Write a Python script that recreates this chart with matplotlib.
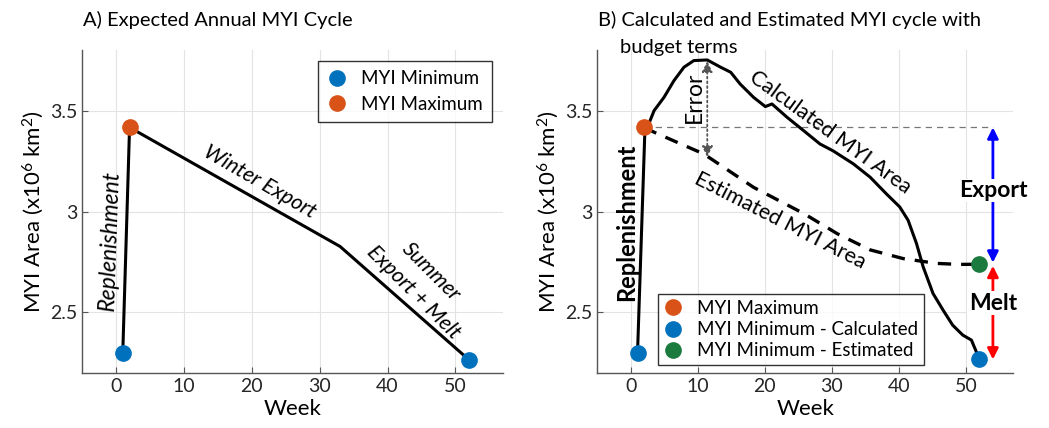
import numpy as np
import matplotlib
matplotlib.use('Agg')
from matplotlib import pyplot as plt
from matplotlib.ticker import FuncFormatter

plt.rcParams['font.family'] = ['Lato', 'DejaVu Sans']
plt.rcParams['mathtext.fontset'] = 'custom'
plt.rcParams['mathtext.rm'] = 'Lato'
plt.rcParams['mathtext.it'] = 'Lato:italic'

# colours (matlab default-ish)
blue = '#0072BD'
orange = '#D95319'
green = '#1b7a3e'

# panel A: idealised cycle
a_week = [1, 2, 33, 52]
a_area = [2.30, 3.417, 2.827, 2.265]
a_min_week = [1, 52]
a_min_area = [2.30, 2.265]
a_max_week = [2]
a_max_area = [3.417]

# panel B: calculated curve
calc_week = [1, 2.08, 3.47, 4.95, 6.44, 7.92, 9.4, 11.4, 13.4, 14.9, 16.3, 18.3, 20.06,
             21.05, 23.3, 25.8, 28.2, 30.2, 33.2, 35.7, 38.1, 40.1, 41.35, 42.6, 43.6,
             45.07, 46.6, 48.0, 49.5, 50.8, 52]
calc_area = [2.30, 3.385, 3.50, 3.566, 3.649, 3.715, 3.748, 3.751, 3.715, 3.69, 3.632,
             3.566, 3.52, 3.533, 3.467, 3.40, 3.335, 3.30, 3.236, 3.17, 3.088, 3.023,
             2.957, 2.842, 2.726, 2.594, 2.51, 2.437, 2.388, 2.363, 2.267]
# panel B: estimated curve
est_week = [2, 3.47, 10.9, 18.3, 25.8, 30.8, 35.7, 40.6, 45.6, 49, 52]
est_area = [3.417, 3.393, 3.285, 3.12, 2.99, 2.89, 2.81, 2.767, 2.743, 2.738, 2.739]

b_max = (2, 3.417)
b_min_calc = (52, 2.267)
b_min_est = (52, 2.739)
arrow_week = 54
error_week = 11.4
error_top = 3.745
error_bottom = 3.27

fig = plt.figure(figsize=(10.49, 4.28), dpi=100)
axA = fig.add_axes([0.0782, 0.1285, 0.4013, 0.7545])
axB = fig.add_axes([0.5694, 0.1285, 0.3963, 0.7545])

ann_size = 15.5


def style(ax):
    ax.set_xlim(-5, 57)
    ax.set_ylim(2.2, 3.8)
    ax.set_xticks([0, 10, 20, 30, 40, 50])
    ax.set_yticks([2.5, 3, 3.5])
    ax.yaxis.set_major_formatter(FuncFormatter(lambda v, p: '%g' % v))
    ax.grid(True, color='#e3e3e3', linewidth=0.8)
    ax.set_axisbelow(True)
    for s in ['top', 'right']:
        ax.spines[s].set_visible(False)
    for s in ['left', 'bottom']:
        ax.spines[s].set_color('#555555')
        ax.spines[s].set_linewidth(1.0)
    ax.tick_params(direction='in', length=4, colors='#555555', labelcolor='#262626',
                   labelsize=14)
    ax.set_xlabel('Week', fontsize=16, labelpad=3)
    ax.set_ylabel('MYI Area (x10$^{6}$ km$^{2}$)', fontsize=16, labelpad=3)


style(axA)
style(axB)

# ---- panel A
axA.plot(a_week, a_area, color='black', lw=2.2, zorder=3)
axA.plot(a_min_week, a_min_area, 'o', color=blue, ms=11, ls='none', label='MYI Minimum', zorder=4)
axA.plot(a_max_week, a_max_area, 'o', color=orange, ms=11, ls='none', label='MYI Maximum', zorder=4)
legA = axA.legend(loc='upper right', bbox_to_anchor=(0.974, 0.966), borderaxespad=0,
                  fontsize=13.5, frameon=True, fancybox=False, edgecolor='black',
                  handletextpad=0.8, borderpad=0.5, labelspacing=0.45, handlelength=1.0)
legA.get_frame().set_linewidth(1.0)

axA.text(-0.84, 2.857, 'Replenishment', rotation=88, style='italic', fontsize=ann_size + 1,
         ha='center', va='center')
axA.text(21.2, 3.145, 'Winter Export', rotation=-30, style='italic', fontsize=ann_size,
         ha='center', va='center', rotation_mode='anchor')
axA.text(46.4, 2.70, 'Summer', rotation=-45, style='italic', fontsize=ann_size,
         ha='center', va='center', rotation_mode='anchor')
axA.text(43.8, 2.60, 'Export + Melt', rotation=-45, style='italic', fontsize=ann_size,
         ha='center', va='center', rotation_mode='anchor')

fig.text(0.079, 0.953, 'A) Expected Annual MYI Cycle', fontsize=14.5, ha='left', va='center')

# ---- panel B
axB.plot(calc_week, calc_area, color='black', lw=2.2, zorder=3)
axB.plot(est_week, est_area, color='black', lw=2.4, ls=(0, (4, 3)), zorder=3)
axB.plot([b_max[0], arrow_week], [b_max[1], b_max[1]], color='#777777', lw=0.9,
         ls=(0, (5, 4)), zorder=2)

axB.annotate('', xy=(error_week, error_top), xytext=(error_week, error_bottom),
             arrowprops=dict(arrowstyle='<|-|>', color='#555555', lw=1.3, ls=':',
                             mutation_scale=16, shrinkA=0, shrinkB=0))
axB.annotate('', xy=(arrow_week, b_max[1]), xytext=(arrow_week, b_min_est[1] + 0.008),
             arrowprops=dict(arrowstyle='<|-|>', color='blue', lw=2.0,
                             mutation_scale=16, shrinkA=0, shrinkB=0))
axB.annotate('', xy=(arrow_week, b_min_est[1] - 0.008), xytext=(arrow_week, b_min_calc[1]),
             arrowprops=dict(arrowstyle='<|-|>', color='red', lw=2.0,
                             mutation_scale=16, shrinkA=0, shrinkB=0))

axB.plot([b_max[0]], [b_max[1]], 'o', color=orange, ms=11, ls='none', label='MYI Maximum', zorder=5)
axB.plot([b_min_calc[0]], [b_min_calc[1]], 'o', color=blue, ms=11, ls='none',
         label='MYI Minimum - Calculated', zorder=5)
axB.plot([b_min_est[0]], [b_min_est[1]], 'o', color=green, ms=11, ls='none',
         label='MYI Minimum - Estimated', zorder=5)
# first blue minimum at week 1
axB.plot([a_min_week[0]], [a_min_area[0]], 'o', color=blue, ms=11, ls='none', zorder=5)

legB = axB.legend(loc='lower left', bbox_to_anchor=(0.146, 0.025), borderaxespad=0,
                  fontsize=13.5, frameon=True, fancybox=False, edgecolor='black',
                  handletextpad=0.8, borderpad=0.3, labelspacing=0.22, handlelength=1.0)
legB.get_frame().set_linewidth(1.0)

axB.text(9.5, 3.566, 'Error', rotation=90, fontsize=ann_size + 1, ha='center', va='center')
axB.text(-0.64, 2.947, 'Replenishment', rotation=90, fontweight='bold', fontsize=17,
         ha='center', va='center')
axB.text(29.7, 3.393, 'Calculated MYI Area', rotation=-36, fontsize=ann_size,
         ha='center', va='center', rotation_mode='anchor')
axB.text(22.3, 2.957, 'Estimated MYI Area', rotation=-27, fontsize=ann_size,
         ha='center', va='center', rotation_mode='anchor')
axB.text(arrow_week, 3.104, 'Export', fontweight='bold', fontsize=16.5, ha='center', va='center',
         bbox=dict(facecolor='white', edgecolor='none', pad=1), zorder=6)
axB.text(arrow_week, 2.545, 'Melt', fontweight='bold', fontsize=16.5, ha='center', va='center',
         bbox=dict(facecolor='white', edgecolor='none', pad=1), zorder=6)

fig.text(0.570, 0.953, 'B) Calculated and Estimated MYI cycle with', fontsize=14.5,
         ha='left', va='center')
fig.text(0.591, 0.890, 'budget terms', fontsize=14.5, ha='left', va='center')

fig.savefig('out.png', dpi=100)
